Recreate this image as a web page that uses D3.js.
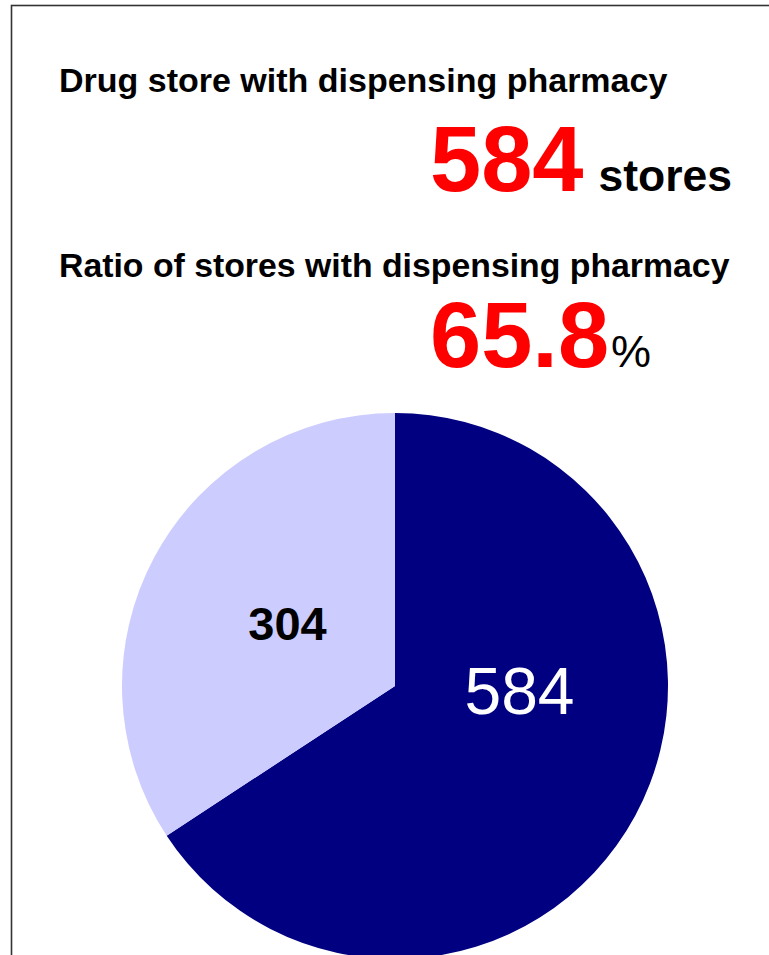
<!DOCTYPE html>
<html>
<head>
<meta charset="utf-8">
<script src="https://cdn.jsdelivr.net/npm/d3@7"></script>
<style>
  body { margin: 0; background: #fff; }
  svg { display: block; font-family: "Liberation Sans", Arial, sans-serif; }
</style>
</head>
<body>
<script>
// data
const categories = ["With dispensing pharmacy", "Without dispensing pharmacy"];
const storeCounts = [584, 304];
const headlineTitles = [
  "Drug store with dispensing pharmacy",
  "Ratio of stores with dispensing pharmacy"
];
const headlineUnits = ["stores", "%"];

const width = 769;
const height = 955;
const colors = ["#000080", "#ccccff"];
const labelColors = ["#ffffff", "#000000"];
// nudges so labels sit where the original put them
const labelNudge = [[14, -55], [3, -3]];

const svg = d3.select("body")
  .append("svg")
  .attr("width", width)
  .attr("height", height);

// frame (only left and top edges fall inside the picture)
svg.append("rect")
  .attr("x", 11.5)
  .attr("y", 5.5)
  .attr("width", width + 20)
  .attr("height", height + 20)
  .attr("fill", "none")
  .attr("stroke", "#333")
  .attr("stroke-width", 1.6);

const total = d3.sum(storeCounts);
const ratio = d3.format(".1f")(storeCounts[0] / total * 100);

// headline block
svg.append("text")
  .attr("x", 59)
  .attr("y", 92)
  .attr("font-size", 34)
  .attr("font-weight", "bold")
  .text(headlineTitles[0]);

const big1 = svg.append("text")
  .attr("x", 430)
  .attr("y", 191)
  .attr("font-weight", "bold");
big1.append("tspan")
  .attr("font-size", 92)
  .attr("fill", "#ff0000")
  .text(storeCounts[0]);
big1.append("tspan")
  .attr("font-size", 44.5)
  .attr("fill", "#000")
  .attr("dx", 15)
  .text(headlineUnits[0]);

svg.append("text")
  .attr("x", 59)
  .attr("y", 277)
  .attr("font-size", 33.8)
  .attr("font-weight", "bold")
  .text(headlineTitles[1]);

const big2 = svg.append("text")
  .attr("x", 430)
  .attr("y", 367);
big2.append("tspan")
  .attr("font-size", 92)
  .attr("font-weight", "bold")
  .attr("fill", "#ff0000")
  .text(ratio);
big2.append("tspan")
  .attr("font-size", 45)
  .attr("fill", "#000")
  .attr("dx", 2)
  .text(headlineUnits[1]);

// pie
const cx = 395, cy = 686, radius = 273;

const pie = d3.pie().sort(null).value(d => d);
const arcs = pie(storeCounts);

const arc = d3.arc().innerRadius(0).outerRadius(radius);
const labelArc = d3.arc().innerRadius(radius * 0.46).outerRadius(radius * 0.46);

const g = svg.append("g").attr("transform", `translate(${cx},${cy})`);

g.selectAll("path")
  .data(arcs)
  .join("path")
  .attr("d", arc)
  .attr("fill", (d, i) => colors[i])
  .append("title")
  .text((d, i) => `${categories[i]}: ${d.data}`);

g.selectAll("text")
  .data(arcs)
  .join("text")
  .attr("x", (d, i) => labelArc.centroid(d)[0] + labelNudge[i][0])
  .attr("y", (d, i) => labelArc.centroid(d)[1] + labelNudge[i][1])
  .attr("dy", "0.36em")
  .attr("text-anchor", "middle")
  .attr("font-size", (d, i) => (i === 0 ? 66 : 47))
  .attr("font-weight", (d, i) => (i === 0 ? "normal" : "bold"))
  .attr("fill", (d, i) => labelColors[i])
  .text(d => d.data);
</script>
</body>
</html>
